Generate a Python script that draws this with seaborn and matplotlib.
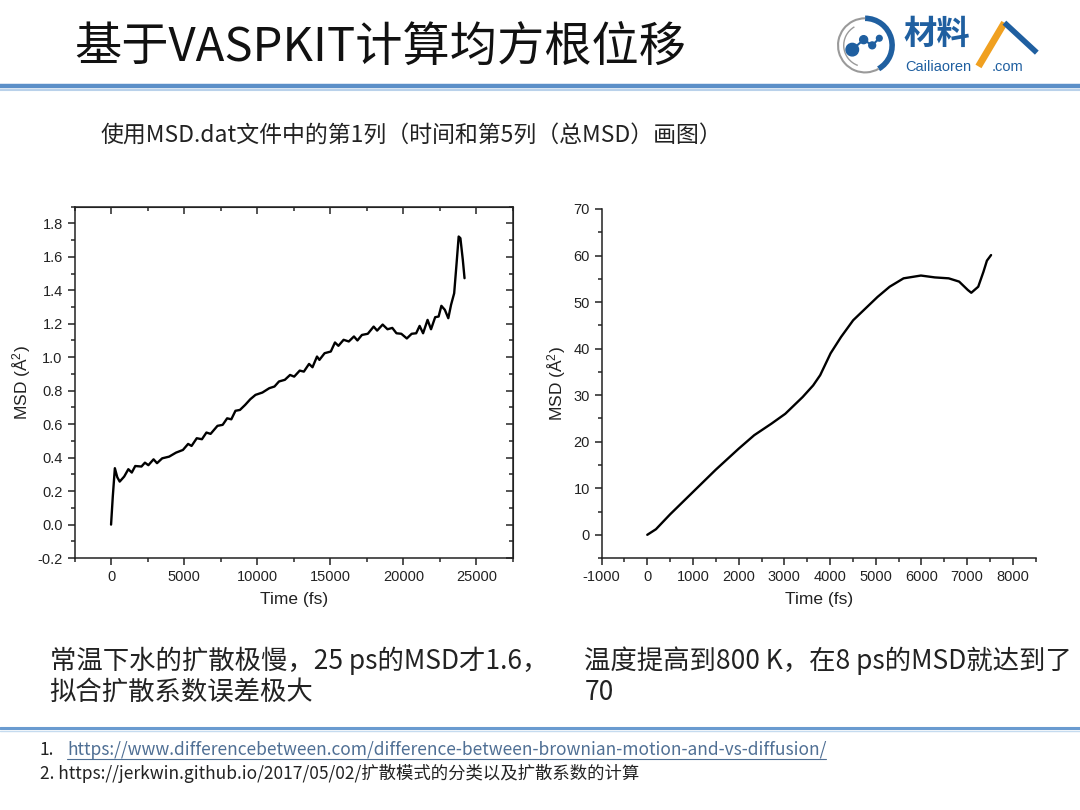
import numpy as np
import pandas as pd
import seaborn as sns
import matplotlib.pyplot as plt
from matplotlib.ticker import MultipleLocator
from matplotlib.patches import Arc, Circle

# MSD at room temperature (left panel)
time_rt = [0, 118, 260, 426, 591, 898, 1182, 1418, 1655, 2080, 2317, 2553, 2908, 3144,
           3499, 3972, 4444, 4917, 5272, 5508, 5863, 6217, 6525, 6809, 7281, 7636, 7943,
           8227, 8511, 8818, 9173, 9527, 9882, 10355, 10827, 11182, 11489, 11891, 12246,
           12529, 12908, 13191, 13546, 13782, 14090, 14255, 14610, 15035, 15319, 15555,
           15910, 16265, 16619, 16856, 17163, 17565, 17967, 18203, 18582, 18913, 19243,
           19527, 19858, 20236, 20567, 20875, 21111, 21348, 21655, 21891, 22175, 22411,
           22600, 22837, 23073, 23262, 23475, 23641, 23783, 23901, 24066, 24184]
msd_rt = [0.0, 0.167, 0.337, 0.283, 0.257, 0.287, 0.331, 0.311, 0.35, 0.347, 0.37, 0.355,
          0.39, 0.367, 0.396, 0.406, 0.43, 0.446, 0.482, 0.47, 0.516, 0.51, 0.55, 0.542,
          0.59, 0.596, 0.635, 0.629, 0.68, 0.685, 0.715, 0.749, 0.775, 0.789, 0.815, 0.825,
          0.855, 0.865, 0.894, 0.884, 0.92, 0.914, 0.96, 0.94, 1.004, 0.984, 1.024, 1.034,
          1.088, 1.068, 1.104, 1.094, 1.124, 1.1, 1.133, 1.14, 1.183, 1.159, 1.195, 1.167,
          1.175, 1.143, 1.14, 1.112, 1.14, 1.143, 1.187, 1.143, 1.223, 1.167, 1.239, 1.243,
          1.307, 1.283, 1.233, 1.313, 1.382, 1.562, 1.721, 1.711, 1.582, 1.472]

# MSD at 800 K (right panel)
time_hot = [0, 190, 500, 1000, 1500, 2000, 2340, 2720, 3020, 3400, 3630, 3784, 4012,
            4240, 4506, 4772, 5038, 5304, 5608, 5988, 6292, 6596, 6824, 7014, 7090,
            7242, 7356, 7432, 7523]
msd_hot = [0.0, 1.2, 4.4, 9.2, 14.0, 18.5, 21.4, 23.9, 26.0, 29.6, 32.1, 34.3, 39.0,
           42.5, 46.1, 48.6, 51.1, 53.3, 55.1, 55.7, 55.3, 55.1, 54.4, 52.6, 52.0,
           53.3, 56.5, 58.9, 60.1]

title = "基于VASPKIT计算均方根位移"
subtitle = "使用MSD.dat文件中的第1列（时间和第5列（总MSD）画图）"
note_left = ["常温下水的扩散极慢，25 ps的MSD才1.6，", "拟合扩散系数误差极大"]
note_right = ["温度提高到800 K，在8 ps的MSD就达到了", "70"]
refs = ["1. https://www.differencebetween.com/difference-between-brownian-motion-and-vs-diffusion/",
        "2. https://jerkwin.github.io/2017/05/02/扩散模式的分类以及扩散系数的计算"]

sns.set_style("ticks")
plt.rcParams['font.family'] = ['Liberation Sans', 'Noto Sans CJK SC', 'DejaVu Sans']
plt.rcParams['mathtext.default'] = 'regular'
plt.rcParams['axes.unicode_minus'] = False
cjk = ['Noto Sans CJK SC', 'DejaVu Sans']

df_rt = pd.DataFrame({'Time (fs)': time_rt, 'MSD': msd_rt})
df_hot = pd.DataFrame({'Time (fs)': time_hot, 'MSD': msd_hot})

fig = plt.figure(figsize=(10.8, 8.1), dpi=100)

# header
fig.text(0.069, 0.941, title, fontsize=34, family=cjk, weight='light', color='#111111', va='center')
fig.add_artist(plt.Line2D([0, 1], [0.894, 0.894], color='#5b8fc8', lw=3.2))
fig.add_artist(plt.Line2D([0, 1], [0.889, 0.889], color='#b9d1ea', lw=1.5))
fig.text(0.093, 0.833, subtitle, fontsize=16.5, family=cjk, weight='light', color='#222222', va='center')

# logo
axl = fig.add_axes([0.772, 0.905, 0.058, 0.078])
axl.set_xlim(-1.1, 1.1)
axl.set_ylim(-1.1, 1.1)
axl.set_aspect('equal')
axl.axis('off')
axl.add_patch(Arc((0, 0), 1.9, 1.9, theta1=-60, theta2=90, color='#1f5fa0', lw=4))
axl.add_patch(Arc((0, 0), 1.9, 1.9, theta1=90, theta2=300, color='#9a9a9a', lw=1.5))
axl.add_patch(Arc((0, 0), 1.5, 1.5, theta1=120, theta2=250, color='#9a9a9a', lw=1))
for cx, cy, r in [(-0.45, -0.15, 0.22), (-0.05, 0.2, 0.14), (0.25, 0.0, 0.12), (0.5, 0.25, 0.1)]:
    axl.add_patch(Circle((cx, cy), r, color='#1f5fa0'))
axl.plot([-0.45, -0.05, 0.25, 0.5], [-0.15, 0.2, 0.0, 0.25], color='#1f5fa0', lw=1.5)
fig.text(0.837, 0.958, "材料", fontsize=24, family=cjk, weight='bold', color='#1f5fa0', va='center')
fig.add_artist(plt.Line2D([0.906, 0.93], [0.918, 0.972], color='#f0a020', lw=5, solid_capstyle='butt'))
fig.add_artist(plt.Line2D([0.93, 0.96], [0.972, 0.935], color='#1f5fa0', lw=4, solid_capstyle='butt'))
fig.text(0.838, 0.917, "Cailiaoren", fontsize=10.5, color='#1f5fa0', va='center')
fig.text(0.918, 0.917, ".com", fontsize=10.5, color='#1f5fa0', va='center')

# left panel
ax1 = fig.add_axes([0.069, 0.311, 0.406, 0.434])
sns.lineplot(data=df_rt, x='Time (fs)', y='MSD', ax=ax1, color='black', lw=1.7,
             estimator=None, sort=False)
ax1.set_xlim(-2500, 27500)
ax1.set_ylim(-0.2, 1.9)
ax1.xaxis.set_major_locator(MultipleLocator(5000))
ax1.xaxis.set_minor_locator(MultipleLocator(2500))
ax1.yaxis.set_major_locator(MultipleLocator(0.2))
ax1.yaxis.set_minor_locator(MultipleLocator(0.1))
ax1.yaxis.set_major_formatter(plt.FuncFormatter(lambda v, p: f"{v:.1f}"))
ax1.tick_params(which='major', direction='out', length=5, width=1.1, labelsize=10.5, colors='#222222')
ax1.tick_params(which='minor', direction='out', length=3, width=1.1)
top = ax1.secondary_xaxis('top')
top.xaxis.set_major_locator(MultipleLocator(5000))
top.xaxis.set_minor_locator(MultipleLocator(2500))
top.tick_params(which='major', direction='in', length=5, width=1.1, labeltop=False)
top.tick_params(which='minor', direction='in', length=3, width=1.1)
right = ax1.secondary_yaxis('right')
right.yaxis.set_major_locator(MultipleLocator(0.2))
right.yaxis.set_minor_locator(MultipleLocator(0.1))
right.tick_params(which='major', direction='in', length=5, width=1.1, labelright=False)
right.tick_params(which='minor', direction='in', length=3, width=1.1)
for sp in ax1.spines.values():
    sp.set_linewidth(1.1)
    sp.set_color('#222222')
ax1.set_xlabel('Time (fs)', fontsize=12.5, color='#222222', labelpad=6)
ax1.set_ylabel('MSD (Å$^2$)', fontsize=12.5, color='#222222', labelpad=3)

# right panel
ax2 = fig.add_axes([0.557, 0.311, 0.402, 0.431])
sns.lineplot(data=df_hot, x='Time (fs)', y='MSD', ax=ax2, color='black', lw=1.7,
             estimator=None, sort=False)
ax2.set_xlim(-1000, 8500)
ax2.set_ylim(-5, 70)
ax2.xaxis.set_major_locator(MultipleLocator(1000))
ax2.xaxis.set_minor_locator(MultipleLocator(500))
ax2.yaxis.set_major_locator(MultipleLocator(10))
ax2.yaxis.set_minor_locator(MultipleLocator(5))
ax2.tick_params(which='major', direction='out', length=5, width=1.1, labelsize=10.5, colors='#222222')
ax2.tick_params(which='minor', direction='out', length=3, width=1.1)
sns.despine(ax=ax2)
for sp in ax2.spines.values():
    sp.set_linewidth(1.1)
    sp.set_color('#222222')
ax2.set_xlabel('Time (fs)', fontsize=12.5, color='#222222', labelpad=6)
ax2.set_ylabel('MSD (Å$^2$)', fontsize=12.5, color='#222222', labelpad=4)

# notes under the panels
for i, y in enumerate([0.184, 0.145]):
    fig.text(0.046, y, note_left[i], fontsize=19, family=cjk, weight='light', color='#222222', va='center')
    fig.text(0.541, y, note_right[i], fontsize=19, family=cjk, weight='light', color='#222222', va='center')

fig.add_artist(plt.Line2D([0, 1], [0.101, 0.101], color='#6a9bd0', lw=2.2))
fig.add_artist(plt.Line2D([0, 1], [0.097, 0.097], color='#c5dbef', lw=1))

# references
fig.text(0.037, 0.074, "1.", fontsize=12.5, family=cjk, weight='light', color='#222222', va='center')
link = fig.text(0.062, 0.074, refs[0][3:], fontsize=12.5, family=cjk, weight='light',
                color='#4f6f94', va='center')
fig.text(0.037, 0.045, refs[1], fontsize=12.5, family=cjk, weight='light', color='#222222', va='center')
bb = link.get_window_extent(renderer=fig.canvas.get_renderer()).transformed(fig.transFigure.inverted())
fig.add_artist(plt.Line2D([bb.x0, bb.x1], [0.063, 0.063], color='#4f6f94', lw=0.8))

fig.savefig('out.png', dpi=100, facecolor='white')
